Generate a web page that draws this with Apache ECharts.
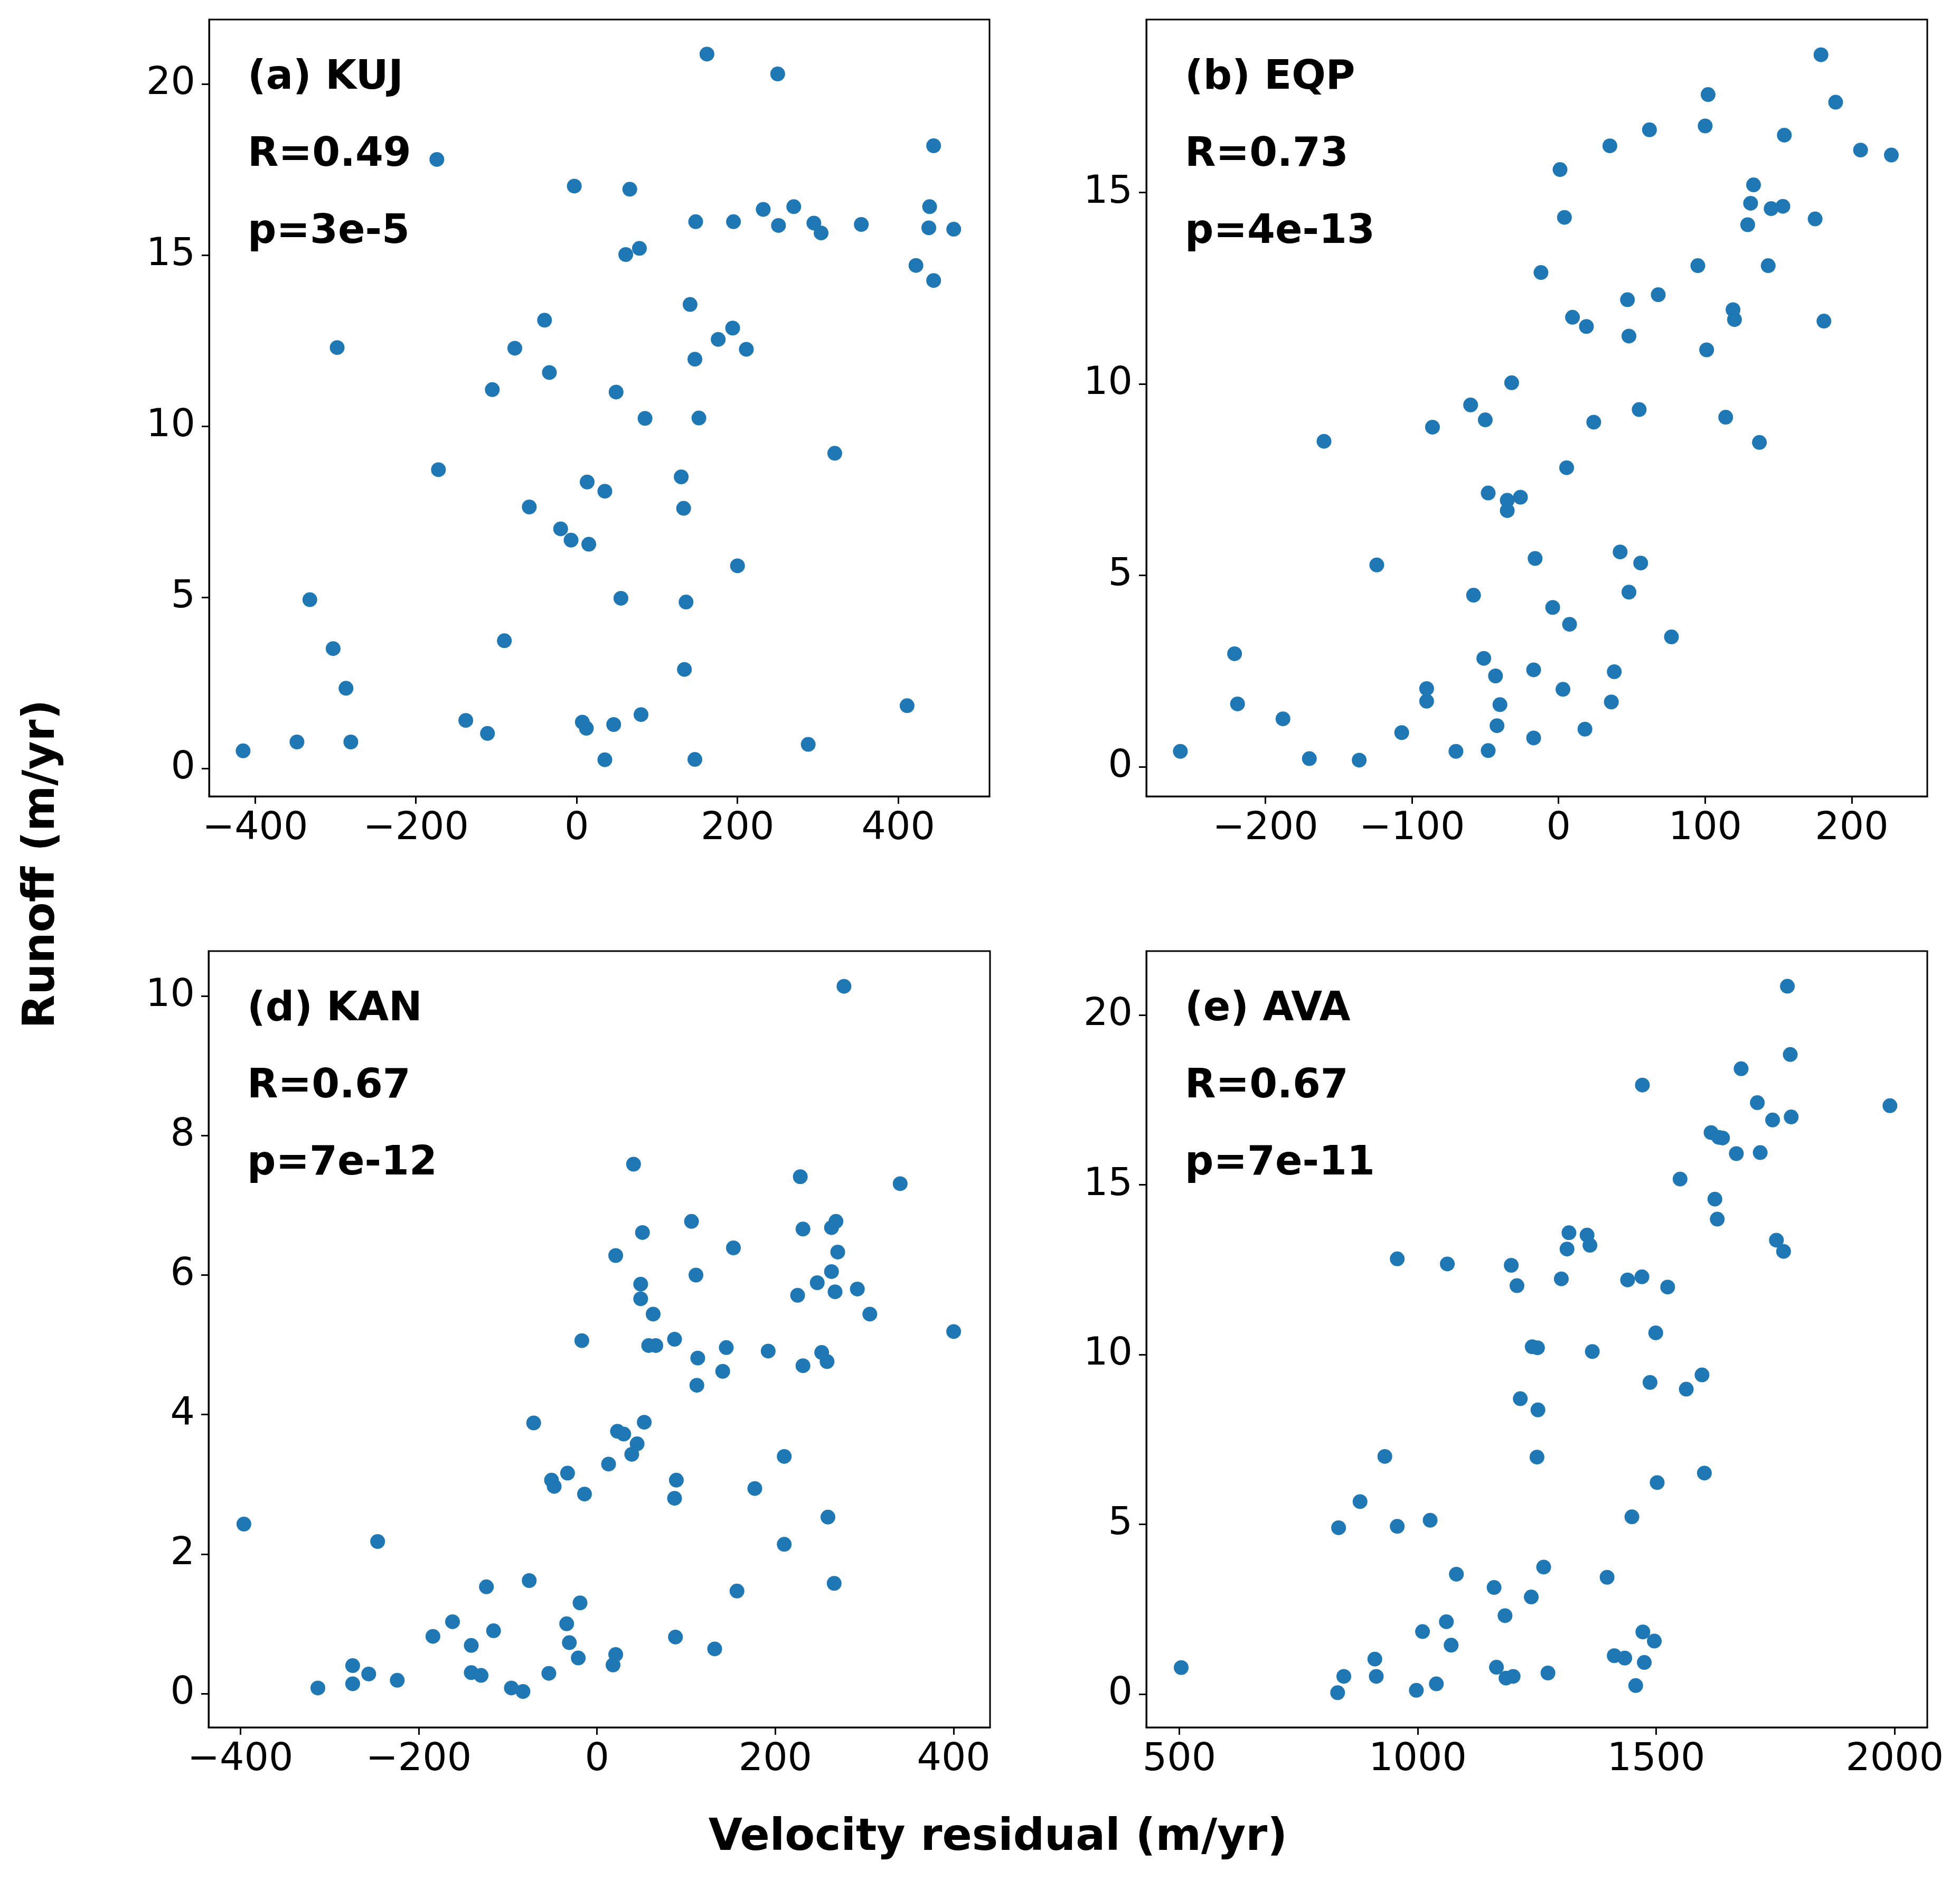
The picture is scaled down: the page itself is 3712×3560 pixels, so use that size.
<!DOCTYPE html>
<html>
<head>
<meta charset="utf-8">
<script src="https://cdn.jsdelivr.net/npm/echarts@6/dist/echarts.min.js"></script>
<style>
html,body{margin:0;padding:0;background:#fff;}
#chart{width:3712px;height:3560px;}
</style>
</head>
<body>
<div id="chart"></div>
<script>
// ---- data (velocity residual m/yr, runoff m/yr) ----
const kujVel = [-415,-348,-281,-332,-303,-287,-298,-174,-172,-138,-111,-105,-90,-77,-59,-40,-34,-20,-7,-3,7,12,13,15,35,35,46,49,55,61,66,78,80,85,130,133,134,136,141,147,147,148,152,162,176,194,195,200,211,232,250,251,270,288,295,304,321,354,411,422,438,439,444,444,469];
const kujRunoff = [0.51,0.77,0.77,4.93,3.5,2.34,12.3,17.8,8.73,1.4,1.02,11.07,3.73,12.28,7.64,13.1,11.57,7.0,6.67,17.02,1.35,1.17,8.37,6.55,8.1,0.25,1.28,11.0,4.97,15.02,16.93,15.2,1.57,10.23,8.52,7.6,2.89,4.86,13.56,0.26,11.96,15.98,10.24,20.88,12.54,12.87,15.98,5.92,12.25,16.34,20.3,15.87,16.42,0.7,15.94,15.65,9.21,15.9,1.83,14.7,15.8,16.42,18.2,14.26,15.76];

const eqpVel = [-258,-221,-219,-188,-170,-160,-136,-124,-107,-90,-90,-86,-70,-60,-58,-51,-50,-48,-48,-43,-42,-40,-35,-35,-32,-26,-16,-17,-17,-12,-4,1,3,4,5.5,7.5,9.5,18,19,24,35,36,38,42,47,48,48,55,56,62,68,77,95,100,101,102,114,119,120,129,131,133,137,143,145,153,154,175,179,181,189,206,227];
const eqpRunoff = [0.40,2.95,1.64,1.25,0.21,8.5,0.17,5.27,0.89,2.04,1.71,8.87,0.40,9.45,4.48,2.83,9.06,7.15,0.42,2.37,1.07,1.62,6.96,6.69,10.03,7.04,5.44,2.53,0.75,12.91,4.16,15.6,2.02,14.35,7.81,3.72,11.74,0.98,11.5,9.0,16.22,1.69,2.48,5.61,12.2,4.56,11.25,9.33,5.32,16.64,12.33,3.39,13.09,16.74,10.89,17.56,9.13,11.94,11.68,14.16,14.72,15.2,8.47,13.09,14.58,14.64,16.5,14.31,18.6,11.64,17.36,16.11,15.98];

const kanVel = [-396,-313,-274,-274,-256,-246,-224,-184,-162,-141,-141,-130,-124,-116,-96,-83,-76,-71,-54,-51,-48,-34,-33,-31,-21,-19,-17,-14,13,18,21,21,23,30,39,41,45,51,49,49,53,58,63,66,87,89,87,88,106,111,113,112,132,141,145,153,157,177,192,210,210,225,228,231,231,247,252,258,259,263,263,266,267,268,270,277,292,306,340,400];
const kanRunoff = [2.43,0.08,0.40,0.14,0.28,2.18,0.19,0.82,1.03,0.69,0.30,0.26,1.53,0.90,0.08,0.03,1.62,3.88,0.29,3.06,2.97,1.00,3.16,0.73,0.51,1.30,5.06,2.86,3.29,0.41,0.56,6.28,3.76,3.72,3.43,7.59,3.58,6.61,5.87,5.66,3.89,4.99,5.44,4.99,5.08,3.06,2.80,0.81,6.77,6.0,4.81,4.42,0.64,4.62,4.96,6.39,1.47,2.94,4.91,2.14,3.40,5.71,7.41,6.66,4.70,5.89,4.89,4.76,2.53,6.68,6.05,1.58,5.76,6.77,6.33,10.14,5.80,5.44,7.31,5.19];

const avaVel = [504,832,834,845,879,910,913,931,957,957,997,1010,1026,1039,1060,1062,1070,1081,1160,1165,1183,1185,1196,1200,1208,1215,1238,1240,1251,1252,1250,1264,1273,1301,1313,1317,1355,1361,1366,1397,1412,1434,1440,1449,1457,1470,1472,1471,1475,1487,1496,1499,1502,1524,1550,1563,1596,1601,1615,1623,1628,1631,1639,1668,1678,1712,1718,1744,1752,1767,1775,1781,1783,1990];
const avaRunoff = [0.78,0.04,4.9,0.52,5.67,1.03,0.52,7.0,12.82,4.94,0.11,1.84,5.12,0.30,2.13,12.67,1.44,3.53,3.14,0.79,2.31,0.47,12.63,0.52,12.03,8.7,2.86,10.23,10.2,8.37,6.98,3.74,0.62,12.23,13.11,13.59,13.52,13.22,10.09,3.44,1.13,1.06,12.2,5.22,0.25,12.29,1.83,17.94,0.93,9.18,1.56,10.64,6.23,11.99,15.17,8.98,9.4,6.51,16.54,14.58,13.99,16.4,16.38,15.92,18.42,17.42,15.95,16.91,13.37,13.04,20.85,18.84,17.0,17.33];

// tick labels
const kujXTicks = [-400,-200,0,200,400];
const kujYTicks = [0,5,10,15,20];
const eqpXTicks = [-200,-100,0,100,200];
const eqpYTicks = [0,5,10,15];
const kanXTicks = [-400,-200,0,200,400];
const kanYTicks = [0,2,4,6,8,10];
const avaXTicks = [500,1000,1500,2000];
const avaYTicks = [0,5,10,15,20];

const panelTitles = ['(a) KUJ','(b) EQP','(d) KAN','(e) AVA'];
const panelR = ['R=0.49','R=0.73','R=0.67','R=0.67'];
const panelP = ['p=3e-5','p=4e-13','p=7e-12','p=7e-11'];

// ---- layout ----
const FONT = '"DejaVu Sans"';
const panels = [
  {vel:kujVel, run:kujRunoff, xt:kujXTicks, yt:kujYTicks, xr:[-457.3,513.5], yr:[-0.82,21.89], left:396, top:37, w:1478, h:1471},
  {vel:eqpVel, run:eqpRunoff, xt:eqpXTicks, yt:eqpYTicks, xr:[-281.2,251.5], yr:[-0.776,19.52], left:2171, top:37, w:1479, h:1471},
  {vel:kanVel, run:kanRunoff, xt:kanXTicks, yt:kanYTicks, xr:[-435.6,440.8], yr:[-0.485,10.645], left:395, top:1801, w:1480, h:1470},
  {vel:avaVel, run:avaRunoff, xt:avaXTicks, yt:avaYTicks, xr:[430.9,2068.3], yr:[-0.982,21.886], left:2171, top:1801, w:1479, h:1470}
];

function fmt(v){ return v < 0 ? '\u2212' + Math.abs(v) : String(v); }

const grid = [], xAxis = [], yAxis = [], series = [], graphic = [];
panels.forEach((p, i) => {
  grid.push({left:p.left, top:p.top, width:p.w, height:p.h, show:true, borderColor:'#000', borderWidth:3, backgroundColor:'transparent', containLabel:false});
  const common = {
    type:'value', gridIndex:i,
    splitLine:{show:false},
    axisLine:{show:true, onZero:false, lineStyle:{color:'#000', width:3}},
  };
  xAxis.push(Object.assign({}, common, {
    min:p.xr[0], max:p.xr[1],
    axisTick:{show:true, length:14, lineStyle:{color:'#000', width:3}, customValues:p.xt},
    axisLabel:{show:true, customValues:p.xt, formatter:fmt, color:'#000', fontFamily:FONT, fontSize:73, margin:26}
  }));
  yAxis.push(Object.assign({}, common, {
    min:p.yr[0], max:p.yr[1],
    axisTick:{show:true, length:14, lineStyle:{color:'#000', width:3}, customValues:p.yt},
    axisLabel:{show:true, customValues:p.yt, formatter:fmt, color:'#000', fontFamily:FONT, fontSize:73, margin:26}
  }));
  series.push({
    type:'scatter', xAxisIndex:i, yAxisIndex:i,
    data:p.vel.map((v, k) => [v, p.run[k]]),
    symbolSize:28,
    itemStyle:{color:'#1f77b4', opacity:1},
    emphasis:{disabled:true},
    silent:true
  });
  const tx = p.left + 73;
  const lines = [panelTitles[i], panelR[i], panelP[i]];
  lines.forEach((t, j) => {
    graphic.push({type:'text', x:tx, y:p.top + 111 + j*146, silent:true,
      style:{text:t, fill:'#000', font:'bold 76px ' + FONT, textAlign:'left', textVerticalAlign:'middle'}});
  });
});

graphic.push({type:'text', x:1890, y:3481, silent:true,
  style:{text:'Velocity residual (m/yr)', fill:'#000', font:'bold 83px ' + FONT, textAlign:'center', textVerticalAlign:'middle'}});
graphic.push({type:'text', x:80, y:1636, rotation:Math.PI/2, silent:true,
  style:{text:'Runoff (m/yr)', fill:'#000', font:'bold 83px ' + FONT, textAlign:'center', textVerticalAlign:'middle'}});

const chart = echarts.init(document.getElementById('chart'), null, {renderer:'canvas', width:3712, height:3560});
chart.setOption({
  animation:false,
  backgroundColor:'#fff',
  grid, xAxis, yAxis, series, graphic
});
</script>
</body>
</html>
